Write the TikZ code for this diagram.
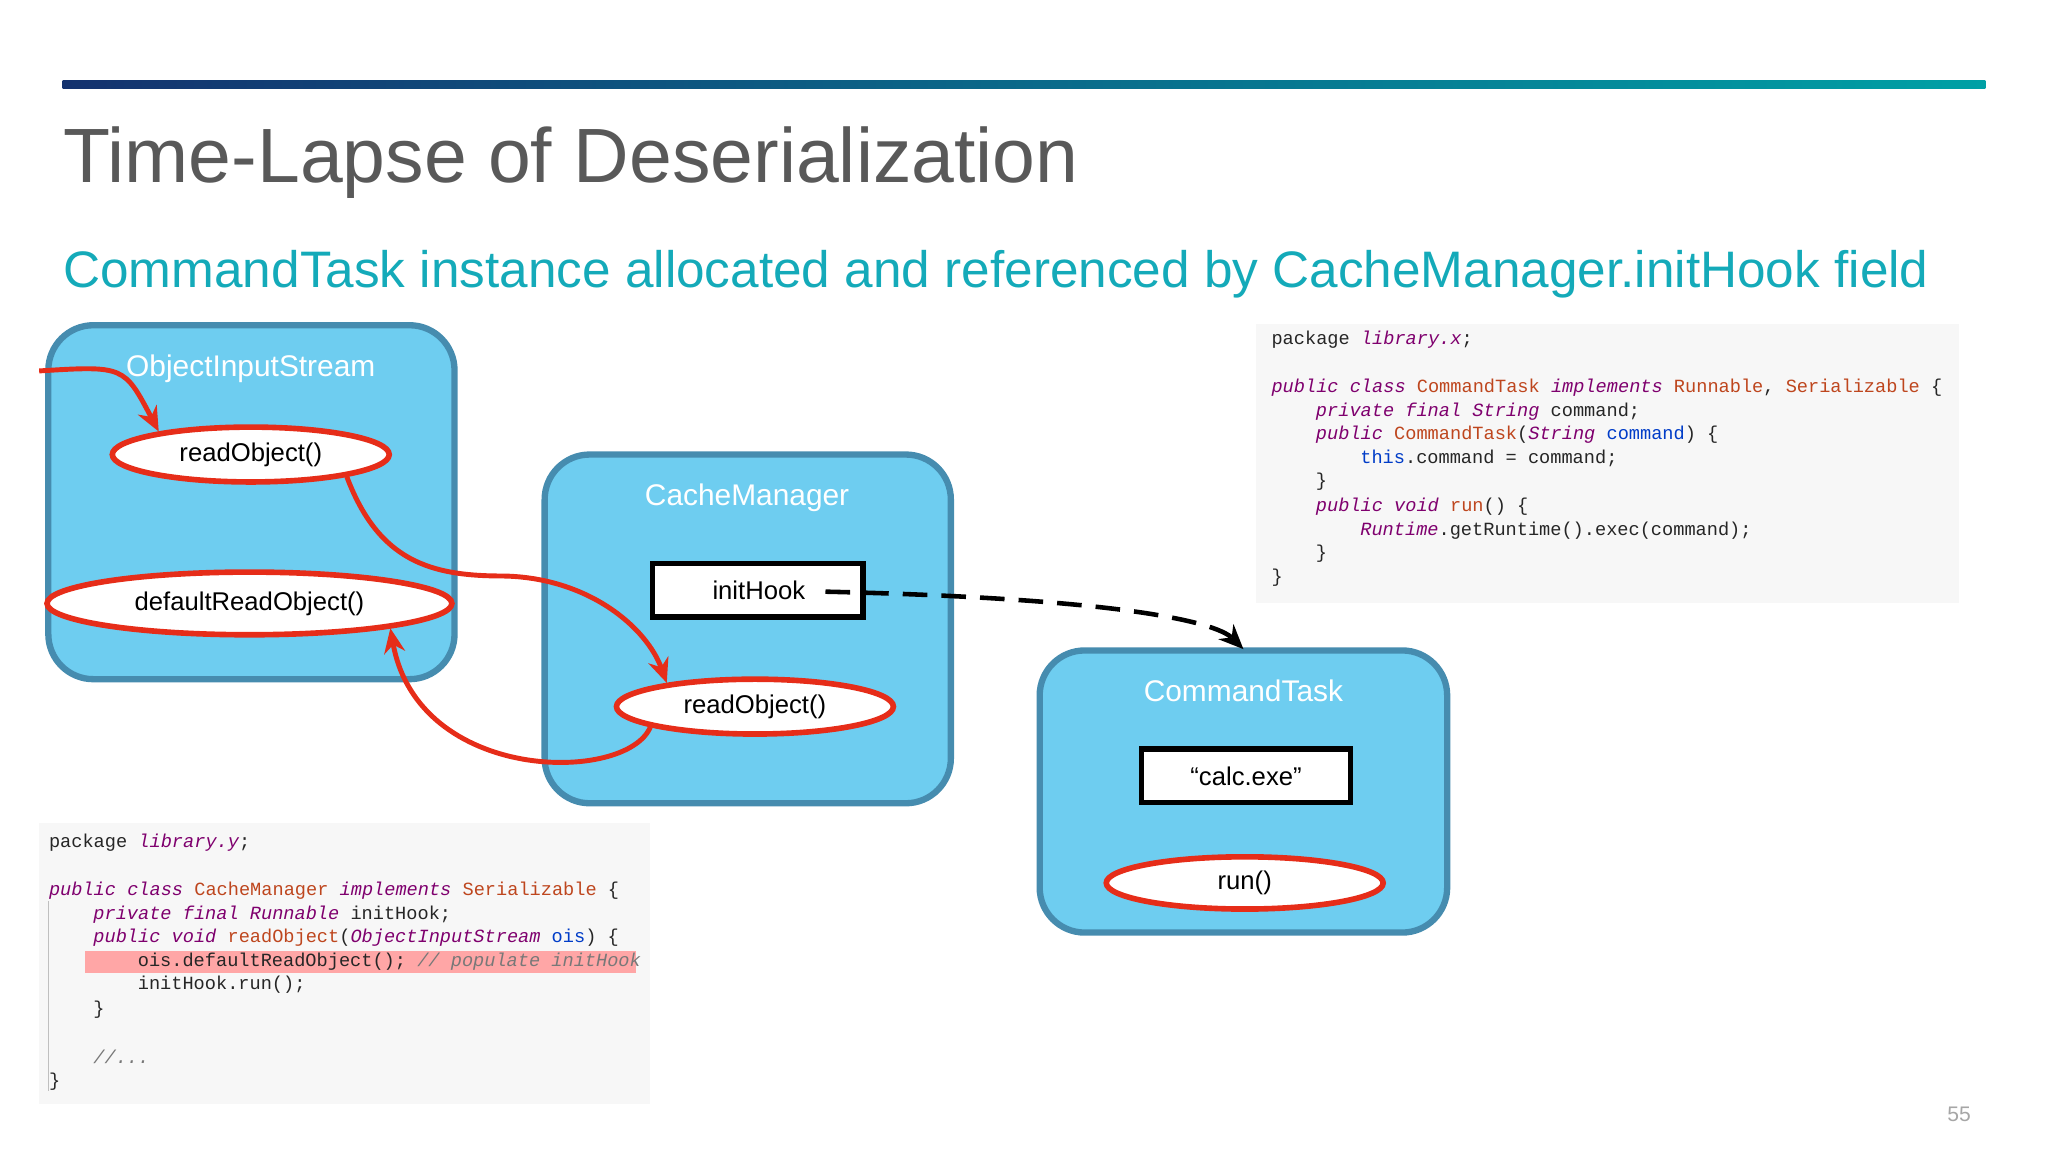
\documentclass[tikz,border=0pt]{standalone}
\usepackage{fontspec}
\setmainfont{Liberation Sans}
\newfontfamily\codef{Liberation Mono}
\usetikzlibrary{shapes.geometric,arrows.meta}
\definecolor{boxfill}{RGB}{110,205,240}
\definecolor{boxdraw}{RGB}{70,140,175}
\definecolor{redc}{RGB}{230,45,25}
\definecolor{ttl}{RGB}{89,89,89}
\definecolor{sub}{RGB}{20,170,185}
\definecolor{kw}{RGB}{127,0,110}
\definecolor{ty}{RGB}{190,70,30}
\definecolor{fl}{RGB}{0,60,200}
\definecolor{cm}{RGB}{120,120,120}
\newcommand{\K}[1]{{\itshape\color{kw}#1}}
\newcommand{\T}[1]{{\color{ty}#1}}
\newcommand{\F}[1]{{\color{fl}#1}}
\newcommand{\C}[1]{{\itshape\color{cm}#1}}
\begin{document}
\begin{tikzpicture}[x=0.0130612cm,y=-0.0130612cm,
  obj/.style={draw=boxdraw,line width=1.8pt,fill=boxfill,rounded corners=0.45cm},
  lbl/.style={text=white,font=\fontsize{8.5}{10}\selectfont},
  ell/.style={ellipse,draw=redc,line width=1.6pt,fill=white,inner sep=0pt,font=\fontsize{7.3}{9}\selectfont},
  fld/.style={rectangle,draw=black,line width=1.6pt,fill=white,inner sep=0pt,font=\fontsize{7.3}{9}\selectfont},
  txt/.style={inner sep=0pt,font=\fontsize{7.3}{9}\selectfont},
  rarr/.style={draw=redc,line width=1.4pt,-{Stealth[length=7pt,width=6pt]}},
  cl/.style={anchor=west,inner sep=0pt,font=\codef\fontsize{5.3}{6}\selectfont,text=black!85},
  codebg/.style={fill=black!3,draw=none}]
\useasboundingbox (0,0) rectangle (1568,882);
\shade[left color={rgb,255:red,20;green,50;blue,110},right color={rgb,255:red,0;green,160;blue,165}] (48,62) rectangle (1520,68);
\node[anchor=base west,inner sep=0pt,text=ttl,font=\fontsize{21.9}{26}\selectfont] (title) at (48,140) {Time-Lapse of Deserialization};
\node[anchor=base west,inner sep=0pt,text=sub,font=\fontsize{14.6}{18}\selectfont] (subt) at (48,220) {CommandTask instance allocated and referenced by CacheManager.initHook field};
% boxes
\draw[obj] (37,249) rectangle (348,520);
\node[lbl] (l1) at (192,282) {ObjectInputStream};
\draw[obj] (417,348) rectangle (728,615);
\node[lbl] (l2) at (572,381) {CacheManager};
\draw[obj] (796,498) rectangle (1108,714);
\node[lbl] (l3) at (952,529) {CommandTask};
\node[ell,minimum width=212*0.0130612cm,minimum height=42*0.0130612cm] (ro1) at (192,348) {readObject()};
\node[ell,minimum width=310*0.0130612cm,minimum height=48*0.0130612cm] (dro) at (191,462) {defaultReadObject()};
\node[fld,minimum width=161*0.0130612cm,minimum height=41*0.0130612cm] (ih) at (580,452) {};
\node[txt] (iht) at (581,452) {initHook};
\node[ell,minimum width=212*0.0130612cm,minimum height=42*0.0130612cm] (ro2) at (578,541) {readObject()};
\node[fld,minimum width=160*0.0130612cm,minimum height=41*0.0130612cm] (calc) at (954,594) {“calc.exe”};
\node[ell,minimum width=212*0.0130612cm,minimum height=40*0.0130612cm] (run) at (953,676) {run()};
% arrows
\coordinate (in) at (30,284);
\draw[rarr] (in) .. controls (95,280) .. (ro1.166);
\draw[rarr] (ro1.-13) .. controls (290,430) and (330,441) .. (385,441) .. controls (450,442) and (495,480) .. (ro2.165);
\draw[rarr] (ro2.-169) .. controls (480,600) and (320,600) .. (dro.-10);
\coordinate (ihs) at (632,453);
\coordinate (ctt) at (952,497);
\draw[line width=1.3pt,dash pattern=on 7pt off 4pt,-{Stealth[length=7pt,width=6pt]}] (ihs) .. controls (850,458) and (930,475) .. (ctt);
% code 1
\fill[codebg] (962,248) rectangle (1500,462);
\node[cl] (a1) at (973,260) {package \K{library.x};};
\node[cl] (a2) at (973,297) {\K{public class} \T{CommandTask} \K{implements} \T{Runnable}, \T{Serializable} \{};
\node[cl] (a3) at (1007,315) {\K{private final String} command;};
\node[cl] (a4) at (1007,333) {\K{public} \T{CommandTask}(\K{String} \F{command}) \{};
\node[cl] (a5) at (1041,351) {\F{this}.command = command;};
\node[cl] (a6) at (1007,369) {\}};
\node[cl] (a7) at (1007,388) {\K{public void} \T{run}() \{};
\node[cl] (a8) at (1041,406) {\K{Runtime}.getRuntime().exec(command);};
\node[cl] (a9) at (1007,424) {\}};
\node[cl] (a10) at (973,442) {\}};
% code 2
\fill[codebg] (30,630) rectangle (498,845);
\fill[red!35] (65,728) rectangle (487,745);
\draw[black!25,line width=0.4pt] (37,690) -- (37,835);
\node[cl] (b1) at (37,645) {package \K{library.y};};
\node[cl] (b2) at (37,682) {\K{public class} \T{CacheManager} \K{implements} \T{Serializable} \{};
\node[cl] (b3) at (71,700) {\K{private final Runnable} initHook;};
\node[cl] (b4) at (71,718) {\K{public void} \T{readObject}(\K{ObjectInputStream} \F{ois}) \{};
\node[cl] (b5) at (105,736) {ois.defaultReadObject(); \C{// populate initHook}};
\node[cl] (b6) at (105,754) {initHook.run();};
\node[cl] (b7) at (71,773) {\}};
\node[cl] (b8) at (71,809) {\C{//...}};
\node[cl] (b9) at (37,828) {\}};
\node[text=black!35,font=\fontsize{6}{7}\selectfont] (pg) at (1500,853) {55};
\end{tikzpicture}
\end{document}
